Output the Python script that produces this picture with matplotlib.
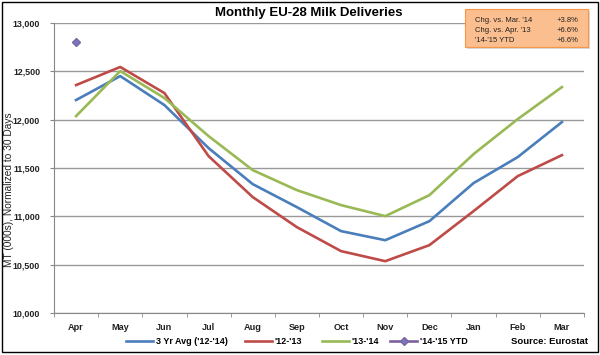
import matplotlib
matplotlib.use("Agg")
import matplotlib.pyplot as plt
from matplotlib.patches import FancyBboxPatch, Rectangle
import numpy as np

plt.rcParams["font.family"] = ["Liberation Sans", "DejaVu Sans"]

months = ["Apr", "May", "Jun", "Jul", "Aug", "Sep", "Oct", "Nov", "Dec", "Jan", "Feb", "Mar"]
avg_12_14 = [12203, 12451, 12151, 11706, 11333, 11095, 10847, 10753, 10950, 11344, 11613, 11975]
y_12_13 = [12358, 12545, 12275, 11623, 11199, 10888, 10640, 10536, 10702, 11054, 11416, 11633]
y_13_14 = [12037, 12503, 12224, 11830, 11478, 11271, 11116, 11002, 11219, 11644, 12006, 12337]
ytd_14_15 = [12803]
yticks = [10000, 10500, 11000, 11500, 12000, 12500, 13000]
box_labels = ["Chg. vs. Mar. '14", "Chg. vs. Apr. '13", "'14-'15 YTD"]
box_values = ["+3.8%", "+6.6%", "+6.6%"]

fig = plt.figure(figsize=(6.0, 3.55), dpi=100)
W, H = 600, 355
ax = fig.add_axes([54 / W, 1 - 313 / H, (584 - 54) / W, (313 - 23) / H])

x = np.arange(len(months))
c_blue = "#4A7EBB"
c_red = "#BE4B48"
c_green = "#98B954"
c_purple = "#7D60A0"

ax.set_xlim(-0.5, len(months) - 0.5)
ax.set_ylim(10000, 13000)
ax.set_yticks(yticks)
ax.yaxis.grid(True, color="#999999", lw=1.0)
ax.set_axisbelow(True)

l1, = ax.plot(x, avg_12_14, color=c_blue, lw=1.9, label="3 Yr Avg ('12-'14)", zorder=3)
l2, = ax.plot(x, y_12_13, color=c_red, lw=1.9, label="'12-'13", zorder=3)
l3, = ax.plot(x, y_13_14, color=c_green, lw=1.9, label="'13-'14", zorder=3)
l4, = ax.plot(x[:len(ytd_14_15)], ytd_14_15, color=c_purple, lw=1.9, marker="D", ms=4.5,
              mfc="#7478BC", mec="#8064A2", label="'14-'15 YTD", zorder=3)

ax.set_yticklabels([f"{v:,}" for v in yticks], fontsize=6.4, fontweight="bold", color="#222222")
ax.set_xticks(x)
ax.set_xticklabels(months, fontsize=6.6, fontweight="bold", color="#222222")
ax.set_xticks(np.arange(-0.5, len(months), 1), minor=True)
ax.tick_params(axis="x", which="major", length=0, pad=7)
ax.tick_params(axis="x", which="minor", length=3, color="#888888")
ax.tick_params(axis="y", length=3, color="#888888", pad=7)
for s in ["top", "right"]:
    ax.spines[s].set_visible(False)
ax.spines["left"].set_color("#888888")
ax.spines["bottom"].set_color("#888888")
ax.set_ylabel("MT (000s), Normalized to 30 Days", fontsize=7.3, color="#222222")
ax.yaxis.set_label_coords((14 - 54) / 530, (313 - 190) / 290)

fig.text(309 / W, 1 - 13 / H, "Monthly EU-28 Milk Deliveries", ha="center", va="center",
         fontsize=9.5, fontweight="bold")

# Outer border
fig.patches.append(Rectangle((2 / W, 3 / H), 596 / W, 350 / H, transform=fig.transFigure,
                             fill=False, ec="black", lw=1))

# Info box
bx0, by0, bw, bh = 465, 9, 123, 38
fig.patches.append(Rectangle(((bx0 + 2) / W, 1 - (by0 + bh + 2) / H), bw / W, bh / H,
                             transform=fig.transFigure, fc="#D9D9D9", ec="none"))
fig.patches.append(FancyBboxPatch((bx0 / W, 1 - (by0 + bh) / H), bw / W, bh / H,
                                  boxstyle="square,pad=0", transform=fig.transFigure,
                                  fc="#FBBE8E", ec="#F79646", lw=0.8))
for i, (lab, val) in enumerate(zip(box_labels, box_values)):
    yy = 1 - (20 + i * 10.5) / H
    fig.text(475 / W, yy, lab, fontsize=5.5, va="center", ha="left", color="#222222")
    fig.text(578 / W, yy, val, fontsize=5.5, va="center", ha="right", color="#222222")

# Legend entries placed individually
leg_pos = [126, 245, 322, 390]
for h, px in zip([l1, l2, l3, l4], leg_pos):
    lg = fig.legend([h], [h.get_label()], loc="center left",
                    bbox_to_anchor=(px / W, 1 - 342 / H), frameon=False,
                    handlelength=3.0, handletextpad=0.3, borderpad=0, borderaxespad=0,
                    prop={"weight": "bold", "size": 6.5})
fig.text(588 / W, 1 - 342 / H, "Source: Eurostat", ha="right", va="center", fontsize=6.8,
         fontweight="bold")

fig.savefig("out.png", dpi=100)
